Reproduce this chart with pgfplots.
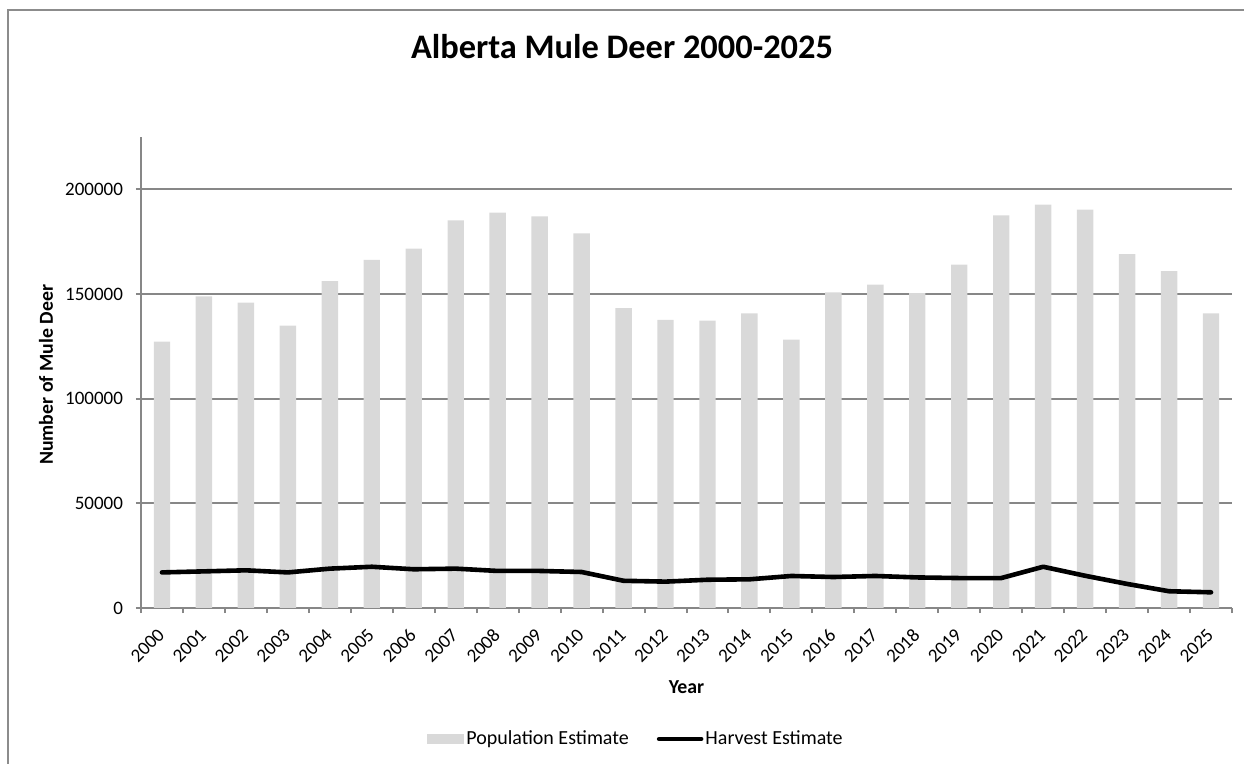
\documentclass[border=0pt]{standalone}
\usepackage{pgfplots}
\pgfplotsset{compat=1.18}
\usepackage{pgfplotstable}
\usepackage{fontspec}
\setmainfont{Carlito}

\definecolor{barcol}{HTML}{D9D9D9}
\definecolor{gridcol}{HTML}{878787}
\definecolor{framecol}{HTML}{8C8C8C}

% Year index (0 = 2000), population estimate, harvest estimate
\pgfplotstableread{
idx pop    harvest
0   127300 17000
1   148900 17500
2   145900 18000
3   134900 17000
4   156200 18800
5   166300 19700
6   171700 18500
7   185200 18800
8   188900 17700
9   187100 17700
10  179000 17200
11  143200 13000
12  137600 12600
13  137300 13500
14  140800 13700
15  128200 15300
16  150800 14800
17  154500 15300
18  150400 14600
19  164000 14300
20  187600 14300
21  192700 19700
22  190300 15400
23  169000 11500
24  160900 8000
25  140800 7500
}\deertable

\begin{document}
\begin{tikzpicture}
\useasboundingbox (0bp,0bp) rectangle (622bp,382bp);
% chart frame (top and left edges)
\draw[framecol, line width=1bp] (4bp,0bp) -- (4bp,377bp) -- (622bp,377bp);
\begin{axis}[
  at={(70.5bp,78bp)}, anchor=south west,
  scale only axis,
  width=545.5bp, height=235.5bp,
  xmin=-0.5, xmax=25.5,
  ymin=0, ymax=225000,
  axis x line*=bottom, axis y line*=left,
  axis line style={-, draw=gridcol, line width=1bp},
  ymajorgrids=true,
  grid style={draw=gridcol, line width=1bp},
  xtick={0,...,25},
  xticklabels={2000,2001,2002,2003,2004,2005,2006,2007,2008,2009,2010,2011,2012,2013,2014,2015,2016,2017,2018,2019,2020,2021,2022,2023,2024,2025},
  major x tick style={draw=none},
  minor xtick={-0.5,0.5,...,25.5},
  minor tick length=2.5bp,
  major tick length=2.5bp,
  tick align=outside,
  tick style={draw=gridcol, line width=1bp},
  ytick={0,50000,100000,150000,200000},
  scaled y ticks=false,
  /pgf/number format/fixed,
  /pgf/number format/set thousands separator={},
  /pgf/number format/assume math mode=true,
  yticklabel style={anchor=east, xshift=-3bp, font=\fontsize{9.5bp}{11bp}\selectfont},
  xticklabel style={font=\fontsize{9.5bp}{11bp}\selectfont, xshift=2bp, yshift=-7bp, rotate=45, anchor=east},
  every axis title shift=0pt,
  title={\textbf{Alberta Mule Deer 2000-2025}},
  title style={at={(axis description cs:0.4409,1.1656)}, anchor=base, font=\fontsize{17.2bp}{20bp}\selectfont},
  ylabel={\textbf{Number of Mule Deer}},
  ylabel style={at={(axis description cs:-0.0871,0.495)}, anchor=center, font=\fontsize{9.9bp}{12bp}\selectfont},
  xlabel={\textbf{Year}},
  xlabel style={at={(axis description cs:0.5,-0.1688)}, anchor=center, font=\fontsize{9.9bp}{12bp}\selectfont},
  legend columns=2,
  legend style={at={(axis description cs:0.2621,-0.278)}, anchor=west, draw=none, fill=none,
    inner sep=0pt, font=\fontsize{10bp}{12bp}\selectfont,
    nodes={inner sep=1bp},
    /tikz/every even column/.append style={column sep=13bp}},
  legend cell align=left,
]
\addplot[ybar, bar width=8.2bp, fill=barcol, draw=none,
  legend image code/.code={\fill[barcol] (0bp,-2.5bp) rectangle (18.5bp,2.5bp);}]
  table[x=idx, y=pop] {\deertable};
\addlegendentry{Population Estimate}
\addplot[black, line width=2.3bp, line join=round, line cap=round, mark=none,
  legend image code/.code={\draw[black, line width=2.3bp, line cap=round] (0bp,0bp) -- (21bp,0bp);}]
  table[x=idx, y=harvest] {\deertable};
\addlegendentry{Harvest Estimate}
\end{axis}
\end{tikzpicture}
\end{document}
